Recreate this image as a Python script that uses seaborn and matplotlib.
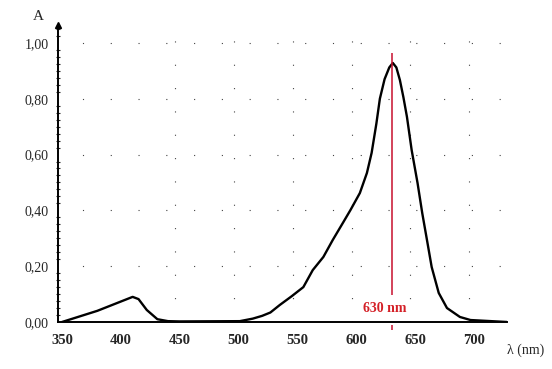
import matplotlib
matplotlib.use("Agg")
import matplotlib.pyplot as plt
import seaborn as sns
import pandas as pd

##  Absorption spectrum
wavelength = [350, 380, 404, 410, 415, 422, 431, 440, 450, 501, 512, 520, 527,
              535, 545, 555, 563, 572, 580, 589, 595, 603, 609, 613, 617, 620,
              624, 628, 631, 634, 637, 640, 643, 647, 652, 656, 660, 664, 670,
              677, 688, 697, 728]
absorbance = [0.000, 0.040, 0.080, 0.090, 0.082, 0.043, 0.010, 0.003, 0.002,
              0.003, 0.012, 0.022, 0.034, 0.061, 0.092, 0.125, 0.186, 0.233,
              0.294, 0.358, 0.401, 0.462, 0.534, 0.606, 0.710, 0.800, 0.870,
              0.912, 0.928, 0.912, 0.867, 0.805, 0.735, 0.616, 0.498, 0.390,
              0.294, 0.197, 0.104, 0.050, 0.018, 0.007, 0.000]

x_ticks = [350, 400, 450, 500, 550, 600, 650, 700]
y_ticks = [0.0, 0.2, 0.4, 0.6, 0.8, 1.0]
y_tick_labels = ["0,00", "0,20", "0,40", "0,60", "0,80", "1,00"]
peak_nm = 630
peak_label = "630 nm"

df = pd.DataFrame({"wavelength": wavelength, "absorbance": absorbance})

sns.set_style("white")
plt.rcParams["font.family"] = ["Liberation Serif", "DejaVu Serif"]

fig = plt.figure(figsize=(5.52, 3.69), dpi=100)
ax = fig.add_axes([0.1051, 0.1274, 0.8134, 0.8048])

#  Curve
sns.lineplot(data=df, x="wavelength", y="absorbance", ax=ax,
             color="black", linewidth=1.7)

#  Axis limits
ax.set_xlim(346.6, 728)
ax.set_ylim(0, 1.064)

#  Sparse dotted grid
for yv in y_ticks[1:]:
    ax.axhline(yv, color="#444444", linewidth=0.8, linestyle=(3, (1, 24)), zorder=0)
for xv in x_ticks[2:]:
    ax.axvline(xv - 4, color="#444444", linewidth=0.8, linestyle=(0, (1, 20)), zorder=0)

#  Spines
for side in ["top", "right"]:
    ax.spines[side].set_visible(False)
for side in ["left", "bottom"]:
    ax.spines[side].set_linewidth(1.4)
    ax.spines[side].set_color("black")

#  Ticks
ax.set_xticks(x_ticks)
ax.set_xticklabels([str(v) for v in x_ticks], fontweight="bold", fontsize=10.5)
ax.set_yticks(y_ticks)
ax.set_yticklabels(y_tick_labels, fontsize=10)
ax.set_yticks([i * 0.025 for i in range(43)], minor=True)
ax.tick_params(axis="x", length=0, pad=9)
ax.tick_params(axis="y", which="major", length=5, width=1, direction="inout", pad=4)
ax.tick_params(axis="y", which="minor", length=3, width=0.8, direction="inout", left=True)
ax.set_xlabel("")
ax.set_ylabel("")

#  Arrow at the top of the y axis
ax.plot([346.6], [1.064], marker="^", color="black", markersize=4, clip_on=False)

#  Peak marker
ax.vlines(peak_nm, 0.097, 0.964, color="#c8102e", linewidth=1.1)
ax.vlines(peak_nm, -0.03, -0.01, color="#c8102e", linewidth=1.1, clip_on=False)
ax.text(peak_nm - 6, 0.047, peak_label, color="#d42027", fontweight="bold",
        fontsize=10, ha="center", va="center")

#  Axis names
fig.text(0.069, 0.955, "A", fontsize=11, ha="center", va="center")
fig.text(0.953, 0.052, "λ (nm)", fontsize=10, ha="center", va="center")

fig.savefig("out.png", dpi=100)
